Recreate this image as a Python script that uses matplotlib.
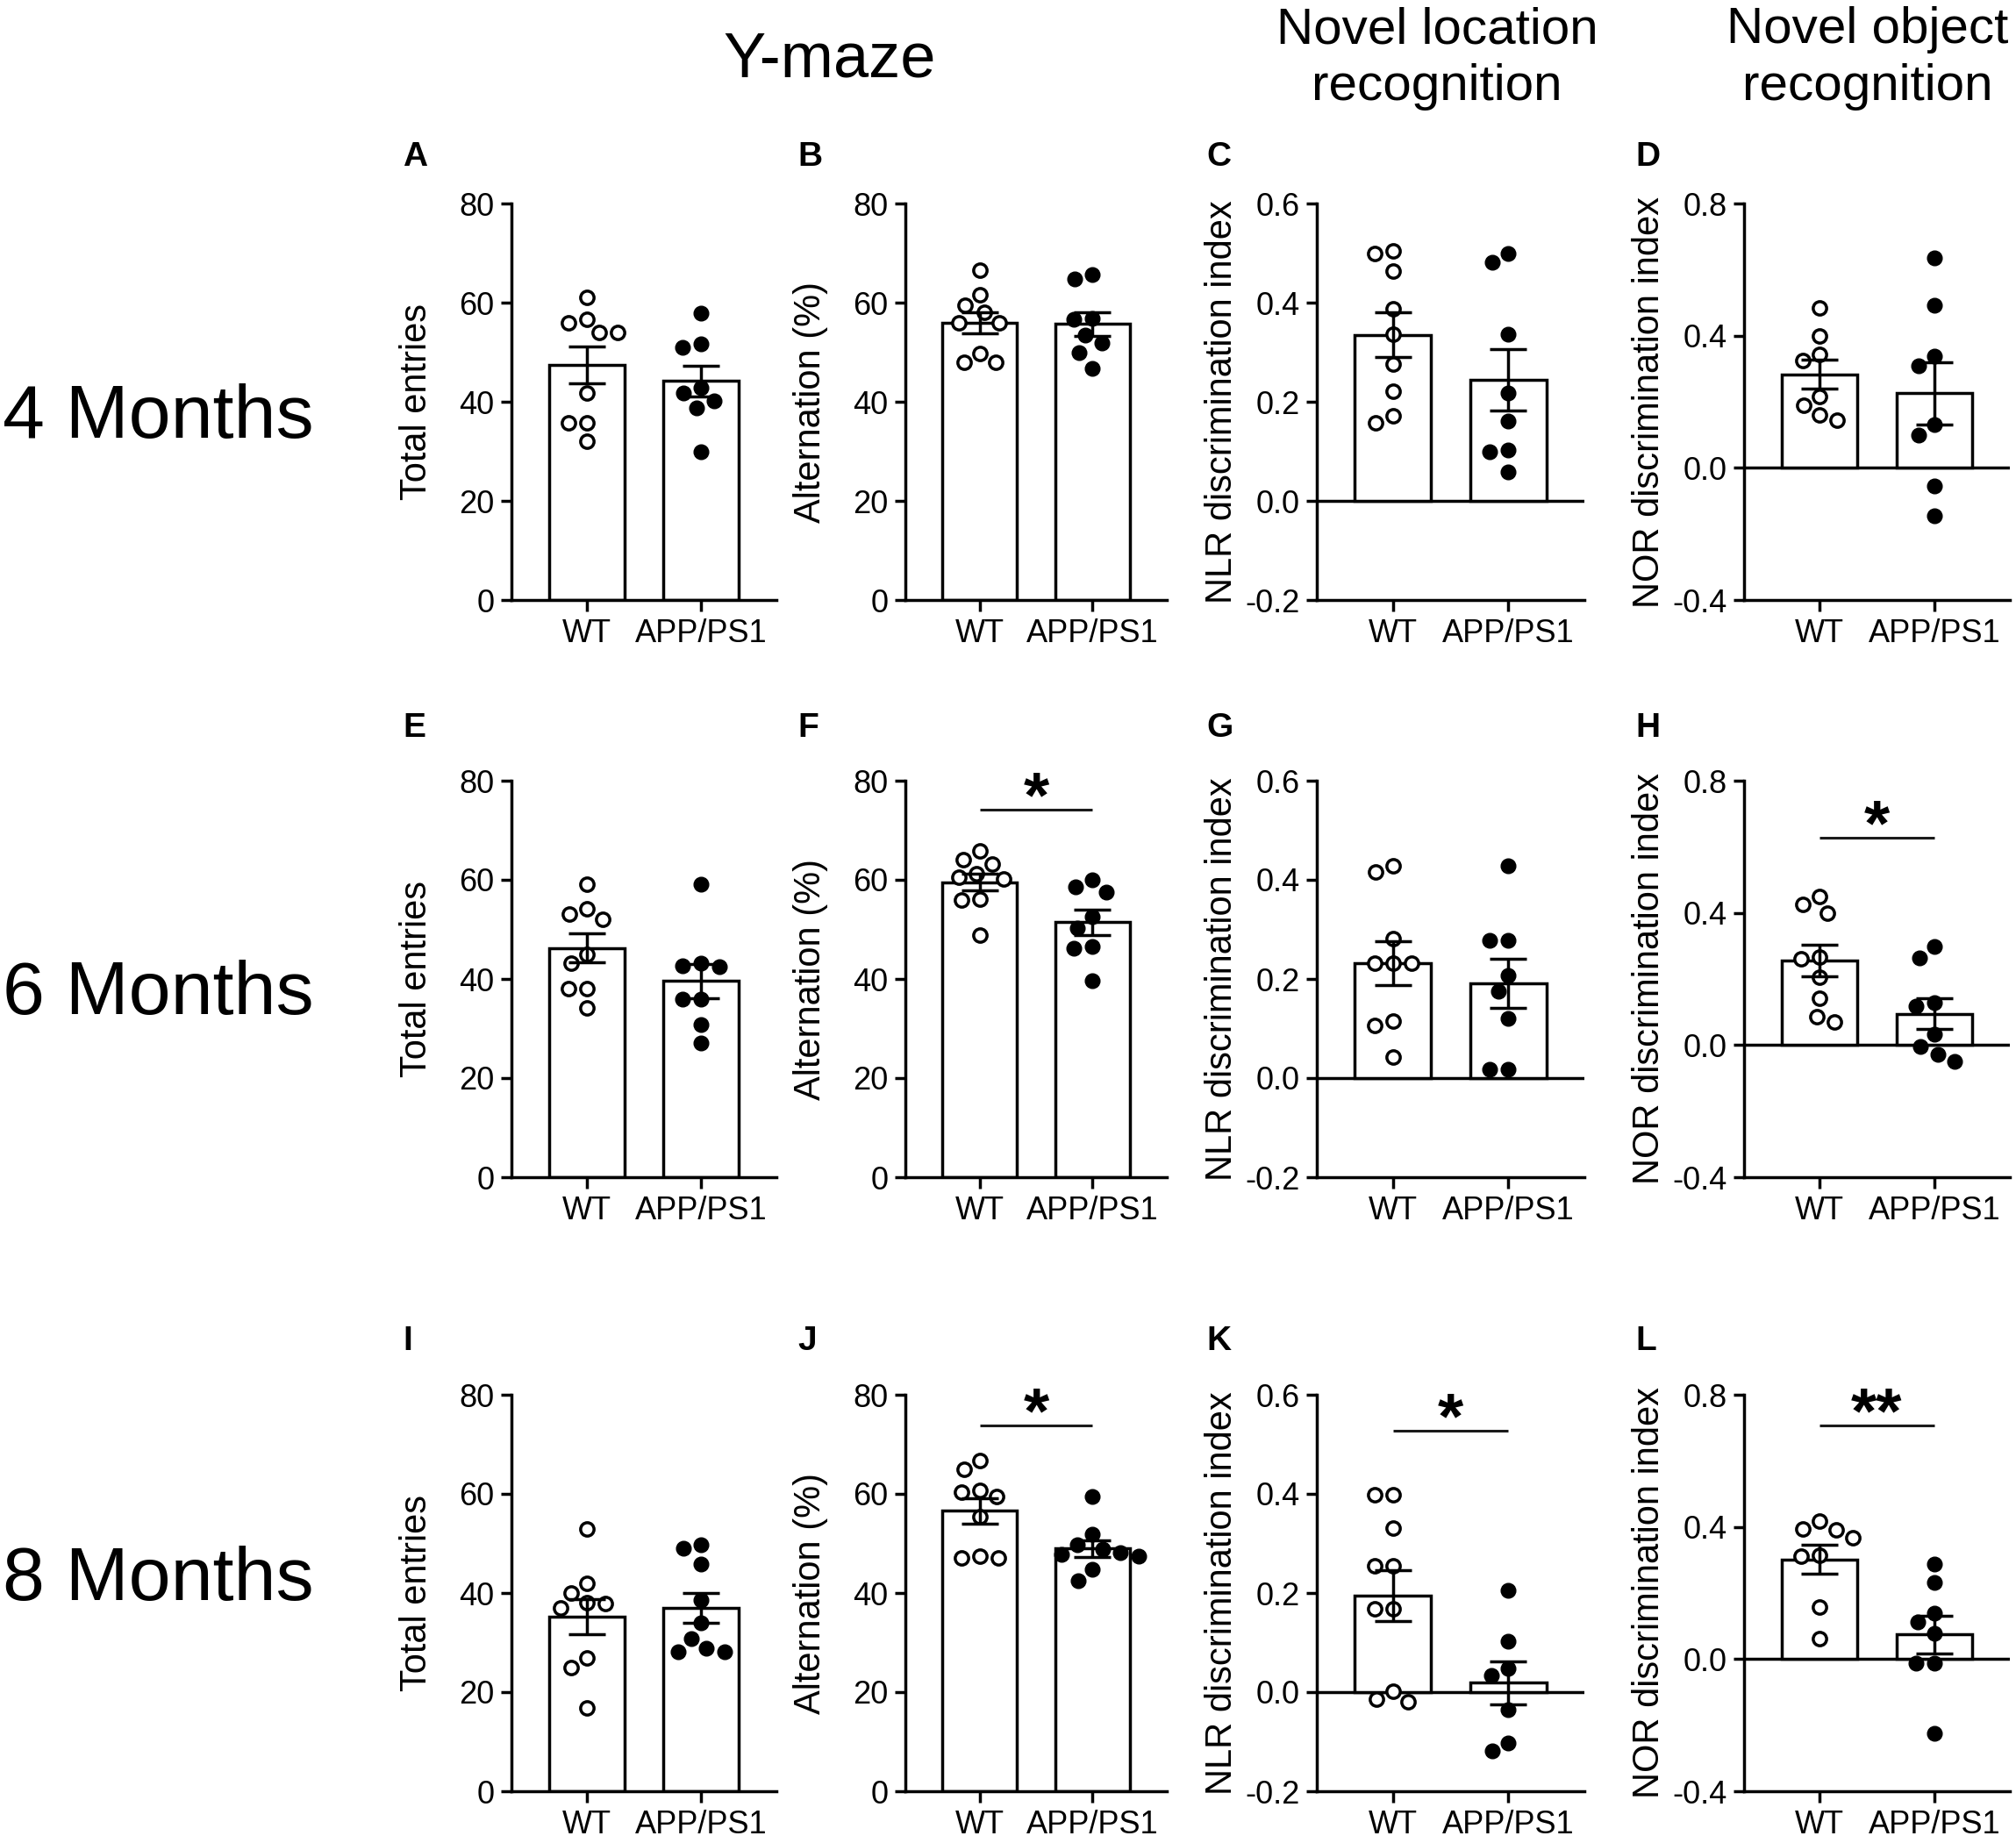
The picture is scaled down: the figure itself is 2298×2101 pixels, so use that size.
#!/usr/bin/env python3
"""Y-maze / NLR / NOR bar + scatter grid (WT vs APP/PS1, 4/6/8 months)."""

import numpy as np
import matplotlib

matplotlib.use("Agg")
import matplotlib.pyplot as plt
from matplotlib.ticker import FormatStrFormatter

plt.rcParams["font.family"] = ["Liberation Sans", "DejaVu Sans"]

# ---- data ---------------------------------------------------------------
groups = ["WT", "APP/PS1"]
ages = ["4 Months", "6 Months", "8 Months"]
column_titles = ["Y-maze", "Novel location\nrecognition", "Novel object\nrecognition"]
letters = ["A", "B", "C", "D", "E", "F", "G", "H", "I", "J", "K", "L"]

entries_4m_wt = [61.0, 56.7, 55.9, 54.0, 54.0, 41.8, 35.8, 35.8, 32.0]
entries_4m_app = [57.8, 51.6, 50.9, 42.8, 41.8, 40.1, 38.7, 30.0]
alt_4m_wt = [66.6, 61.6, 59.4, 58.0, 55.9, 55.9, 49.8, 47.9, 47.9]
alt_4m_app = [65.7, 64.8, 56.8, 56.7, 53.4, 51.8, 49.9, 46.7]
nlr_4m_wt = [0.504, 0.499, 0.463, 0.387, 0.337, 0.276, 0.222, 0.171, 0.158]
nlr_4m_app = [0.499, 0.482, 0.337, 0.218, 0.161, 0.103, 0.100, 0.058]
nor_4m_wt = [0.484, 0.400, 0.344, 0.324, 0.217, 0.189, 0.161, 0.144]
nor_4m_app = [0.635, 0.491, 0.339, 0.308, 0.131, 0.100, -0.054, -0.146]

entries_6m_wt = [59.1, 54.1, 53.1, 52.1, 44.9, 43.1, 38.0, 38.0, 34.1]
entries_6m_app = [59.1, 43.1, 42.7, 42.4, 35.9, 35.9, 30.8, 27.0]
alt_6m_wt = [65.8, 64.1, 63.1, 61.2, 60.5, 60.2, 56.1, 55.9, 48.9]
alt_6m_app = [60.0, 58.6, 57.6, 52.5, 50.3, 46.6, 46.2, 39.7]
nlr_6m_wt = [0.429, 0.416, 0.281, 0.231, 0.231, 0.231, 0.115, 0.107, 0.042]
nlr_6m_app = [0.429, 0.278, 0.278, 0.207, 0.176, 0.120, 0.018, 0.017]
nor_6m_wt = [0.450, 0.426, 0.399, 0.267, 0.261, 0.205, 0.141, 0.086, 0.070]
nor_6m_app = [0.297, 0.263, 0.129, 0.119, 0.033, -0.005, -0.028, -0.049]

entries_8m_wt = [52.9, 42.0, 40.0, 38.0, 37.8, 37.0, 26.9, 24.9, 16.9]
entries_8m_app = [49.8, 49.0, 45.9, 38.6, 33.9, 30.8, 28.8, 28.1, 28.1]
alt_8m_wt = [66.8, 64.9, 60.7, 60.3, 59.4, 55.4, 47.5, 47.1, 47.1]
alt_8m_app = [59.5, 51.9, 49.8, 48.8, 48.1, 47.8, 47.5, 44.7, 42.4]
nlr_8m_wt = [0.398, 0.398, 0.331, 0.255, 0.255, 0.168, 0.168, 0.001, -0.014, -0.020]
nlr_8m_app = [0.206, 0.102, 0.048, 0.033, -0.036, -0.102, -0.119]
nor_8m_wt = [0.417, 0.393, 0.391, 0.368, 0.315, 0.312, 0.157, 0.063]
nor_8m_app = [0.287, 0.231, 0.139, 0.112, 0.078, -0.013, -0.013, -0.224]

# significance bars: panel letter -> (height, stars)
sig_marks = {"F": (74.2, "*"), "H": (0.628, "*"), "J": (73.8, "*"),
             "K": (0.527, "*"), "L": (0.707, "**")}

# ---- layout (pixels) -----------------------------------------------------
W, H = 2298, 2101
COL_LEFT = [583, 1032, 1501, 1988]
COL_WIDTH = [302, 298, 305, 303]
ROW_TOP = [232, 890, 1590]
AX_H = 452
LETTER_X = [459, 909, 1375, 1864]
LETTER_BASE = [189, 840, 1539]
AGE_BASE = [499, 1156, 1824]

LW = 2.5

fig = plt.figure(figsize=(W / 100, H / 100), dpi=100)


def add_axes_px(left, top, width, height):
    return fig.add_axes([left / W, 1 - (top + height) / H, width / W, height / H])


def swarm_x(ax, x0, values, diam=21.0):
    """Beeswarm-style x positions (data coords) computed in pixel space."""
    vals = np.asarray(values, dtype=float)
    pts = ax.transData.transform(np.column_stack([np.full(len(vals), x0), vals]))
    ys = pts[:, 1]
    offs = np.zeros(len(vals))
    placed = []
    for i in np.argsort(-ys, kind="stable"):
        y = ys[i]
        cands = [0.0]
        for px, py in placed:
            dy = abs(y - py)
            if dy < diam:
                dx = np.sqrt(diam ** 2 - dy ** 2)
                cands += [px - dx, px + dx]
        best = 0.0
        for c in sorted(cands, key=lambda c: (round(abs(c), 3), c)):
            if all((c - px) ** 2 + (y - py) ** 2 >= diam ** 2 - 1e-6 for px, py in placed):
                best = c
                break
        offs[i] = best
        placed.append((best, y))
    back = ax.transData.inverted().transform(np.column_stack([pts[:, 0] + offs, ys]))
    return back[:, 0]


def draw_panel(ax, wt, app, ylim, yticks, ylabel, fmt, width_px, sig=None):
    ax.set_xlim(-0.66, 1.66)
    ax.set_ylim(*ylim)
    data = [np.asarray(wt, float), np.asarray(app, float)]
    means = [d.mean() for d in data]
    sems = [d.std(ddof=1) / np.sqrt(len(d)) for d in data]

    if ylim[0] < 0:
        ax.axhline(0, color="black", lw=LW, zorder=1)
    ax.bar([0, 1], means, width=0.66, color="white", edgecolor="black",
           linewidth=LW, zorder=2)

    xs_wt = swarm_x(ax, 0, data[0])
    xs_app = swarm_x(ax, 1, data[1])
    ax.plot(xs_wt, data[0], "o", ms=11, mfc="white", mec="black", mew=2.5,
            ls="none", zorder=3)
    ax.plot(xs_app, data[1], "o", ms=12, mfc="black", mec="black", mew=1,
            ls="none", zorder=3)
    ax.errorbar([0, 1], means, yerr=sems, fmt="none", ecolor="black",
                elinewidth=LW, capsize=15, capthick=LW, zorder=4)

    if sig is not None:
        h, stars = sig
        ax.plot([0, 1], [h, h], color="#1a1a1a", lw=2.2, solid_capstyle="butt",
                zorder=4)
        ax.annotate(stars, xy=(0.5, h), xytext=(0, -6), textcoords="offset points",
                    ha="center", va="baseline", fontsize=54, fontweight="bold")

    for side in ("top", "right"):
        ax.spines[side].set_visible(False)
    for side in ("left", "bottom"):
        ax.spines[side].set_linewidth(LW)
    ax.set_yticks(yticks)
    ax.yaxis.set_major_formatter(FormatStrFormatter(fmt))
    ax.set_xticks([0, 1])
    ax.set_xticklabels(groups)
    ax.tick_params(axis="y", length=9, width=LW, labelsize=26, pad=5)
    ax.tick_params(axis="x", length=9, width=LW, labelsize=26, pad=6)
    ax.set_ylabel(ylabel, fontsize=30)
    ax.yaxis.set_label_coords(-88 / width_px, 0.5)


rows = [
    [(entries_4m_wt, entries_4m_app), (alt_4m_wt, alt_4m_app),
     (nlr_4m_wt, nlr_4m_app), (nor_4m_wt, nor_4m_app)],
    [(entries_6m_wt, entries_6m_app), (alt_6m_wt, alt_6m_app),
     (nlr_6m_wt, nlr_6m_app), (nor_6m_wt, nor_6m_app)],
    [(entries_8m_wt, entries_8m_app), (alt_8m_wt, alt_8m_app),
     (nlr_8m_wt, nlr_8m_app), (nor_8m_wt, nor_8m_app)],
]
col_specs = [
    ((0, 80), [0, 20, 40, 60, 80], "Total entries", "%d"),
    ((0, 80), [0, 20, 40, 60, 80], "Alternation (%)", "%d"),
    ((-0.2, 0.6), [-0.2, 0.0, 0.2, 0.4, 0.6], "NLR discrimination index", "%.1f"),
    ((-0.4, 0.8), [-0.4, 0.0, 0.4, 0.8], "NOR discrimination index", "%.1f"),
]

for r, row in enumerate(rows):
    for c, (wt, app) in enumerate(row):
        letter = letters[r * 4 + c]
        ax = add_axes_px(COL_LEFT[c], ROW_TOP[r], COL_WIDTH[c], AX_H)
        ylim, yticks, ylabel, fmt = col_specs[c]
        draw_panel(ax, wt, app, ylim, yticks, ylabel, fmt, COL_WIDTH[c],
                   sig=sig_marks.get(letter))
        fig.text(LETTER_X[c] / W, 1 - LETTER_BASE[r] / H, letter, fontsize=28,
                 fontweight="bold", ha="left", va="baseline")
    fig.text(3 / W, 1 - AGE_BASE[r] / H, ages[r], fontsize=62, ha="left",
             va="baseline")

# column headers
fig.text(946 / W, 1 - 88 / H, column_titles[0], fontsize=52, ha="center",
         va="baseline")
for cx, title in ((1638, column_titles[1]), (2129, column_titles[2])):
    line1, line2 = title.split("\n")
    fig.text(cx / W, 1 - 49 / H, line1, fontsize=42, ha="center", va="baseline")
    fig.text(cx / W, 1 - 114 / H, line2, fontsize=42, ha="center", va="baseline")

fig.savefig("out.png", dpi=100, facecolor="white")
